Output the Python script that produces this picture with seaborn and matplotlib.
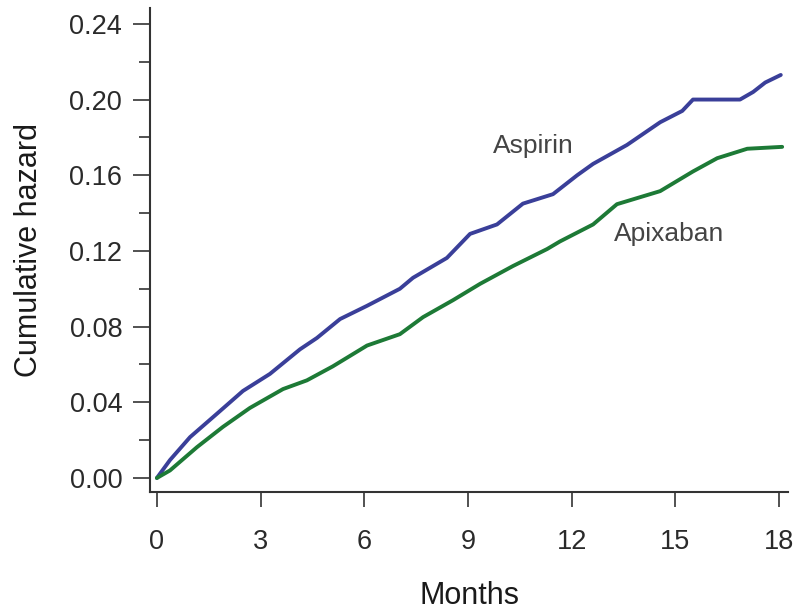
import numpy as np
import pandas as pd
import matplotlib
matplotlib.use("Agg")
import matplotlib.pyplot as plt
from matplotlib.ticker import MultipleLocator
import seaborn as sns

# Cumulative hazard over follow-up (months)
aspirin_months = [0, 0.38, 0.96, 1.74, 2.49, 3.27, 4.14, 4.63, 5.30, 6.08, 7.03, 7.41, 8.39,
                  9.06, 9.84, 10.59, 11.46, 12.16, 12.62, 13.6, 14.56, 15.20, 15.51, 16.87,
                  17.25, 17.6, 18.05]
aspirin_hazard = [0, 0.0095, 0.0216, 0.034, 0.046, 0.055, 0.068, 0.074, 0.084, 0.091, 0.100,
                  0.1058, 0.1163, 0.129, 0.134, 0.145, 0.150, 0.160, 0.166, 0.176, 0.188,
                  0.194, 0.200, 0.200, 0.204, 0.209, 0.213]

apixaban_months = [0, 0.38, 1.16, 1.91, 2.69, 3.65, 4.34, 5.09, 6.08, 7.03, 7.70, 8.57, 9.35,
                   10.30, 11.29, 11.66, 12.62, 13.31, 14.56, 15.51, 16.21, 17.08, 18.09]
apixaban_hazard = [0, 0.004, 0.0163, 0.027, 0.037, 0.047, 0.0516, 0.059, 0.070, 0.076, 0.085,
                   0.094, 0.1026, 0.112, 0.121, 0.125, 0.134, 0.1447, 0.1516, 0.162, 0.169,
                   0.174, 0.175]

x_ticks = [0, 3, 6, 9, 12, 15, 18]
y_ticks = [0.00, 0.04, 0.08, 0.12, 0.16, 0.20, 0.24]

df = pd.concat([
    pd.DataFrame({"Months": aspirin_months, "Hazard": aspirin_hazard, "Arm": "Aspirin"}),
    pd.DataFrame({"Months": apixaban_months, "Hazard": apixaban_hazard, "Arm": "Apixaban"}),
], ignore_index=True)

sns.set_style("ticks")
plt.rcParams["font.family"] = ["Liberation Sans", "DejaVu Sans"]

fig = plt.figure(figsize=(7.96, 6.13), dpi=100)
ax = fig.add_axes([0.1884, 0.1974, 0.8016, 0.7896])

palette = {"Aspirin": "#3a3f99", "Apixaban": "#1d7a36"}
sns.lineplot(data=df, x="Months", y="Hazard", hue="Arm", palette=palette,
             linewidth=2.8, legend=False, ax=ax, estimator=None, sort=False)

ax.set_xlim(-0.2, 18.26)
ax.set_ylim(-0.0074, 0.2484)
ax.set_xticks(x_ticks)
ax.set_xticklabels([str(t) for t in x_ticks])
ax.set_yticks(y_ticks)
ax.set_yticklabels([f"{t:.2f}" for t in y_ticks])
ax.yaxis.set_minor_locator(MultipleLocator(0.02))

for side in ("top", "right"):
    ax.spines[side].set_visible(False)
for side in ("left", "bottom"):
    ax.spines[side].set_color("#333333")
    ax.spines[side].set_linewidth(1.5)

ax.tick_params(axis="y", which="major", direction="out", length=12, width=1.2,
               color="#333333", labelsize=19.5, pad=8, labelcolor="#2a2a2a")
ax.tick_params(axis="y", which="minor", direction="out", length=8, width=1.2, color="#333333")
ax.tick_params(axis="x", which="major", direction="out", length=11, width=1.2,
               color="#333333", labelsize=19.5, pad=16, labelcolor="#2a2a2a")

ax.set_xlabel("Months", fontsize=22, labelpad=18.5, color="#1a1a1a")
ax.set_ylabel("Cumulative hazard", fontsize=22, labelpad=18, color="#1a1a1a")

ax.text(10.88, 0.1753, "Aspirin", fontsize=19, color="#444444", ha="center", va="center")
ax.text(14.82, 0.129, "Apixaban", fontsize=19, color="#444444", ha="center", va="center")

fig.savefig("out.png", dpi=100)
